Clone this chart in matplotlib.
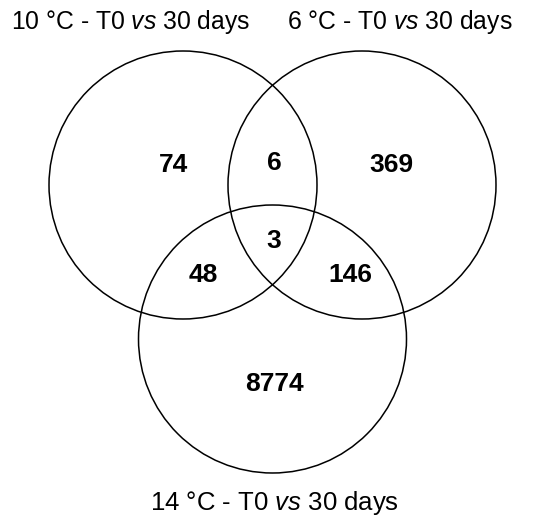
import matplotlib
matplotlib.use('Agg')
import matplotlib.pyplot as plt
from matplotlib.patches import Circle

plt.rcParams['font.family'] = ['Liberation Sans', 'DejaVu Sans']
plt.rcParams['mathtext.fontset'] = 'custom'
plt.rcParams['mathtext.it'] = 'Liberation Sans:italic'
plt.rcParams['mathtext.rm'] = 'Liberation Sans'

# set labels and region counts
set_labels = [r'10 °C - T0 $\it{vs}$ 30 days',
              r'6 °C - T0 $\it{vs}$ 30 days',
              r'14 °C - T0 $\it{vs}$ 30 days']
regions = ['A', 'B', 'C', 'AB', 'AC', 'BC', 'ABC']
counts = [74, 369, 8774, 6, 48, 146, 3]

fig = plt.figure(figsize=(5.49, 5.20), dpi=100)
ax = fig.add_axes([0, 0, 1, 1])
ax.set_xlim(0, 549)
ax.set_ylim(520, 0)
ax.set_aspect('equal')
ax.axis('off')

r = 134
centers = [(183, 185), (362, 185), (272.5, 339)]
for c in centers:
    ax.add_patch(Circle(c, r, fill=False, edgecolor='black', linewidth=1.1))

# baseline positions
label_pos = [(131, 29), (400, 29), (274.5, 510)]
label_size = [17.8, 17.8, 18.5]
for (x, y), t, fs in zip(label_pos, set_labels, label_size):
    ax.text(x, y, t, ha='center', va='baseline', fontsize=fs)

count_pos = {'A': (173, 172), 'B': (391, 172), 'C': (274, 391),
             'AB': (274, 170), 'AC': (203, 282), 'BC': (350, 282),
             'ABC': (274, 248)}
for reg, n in zip(regions, counts):
    x, y = count_pos[reg]
    ax.text(x, y, str(n), ha='center', va='baseline', fontsize=19,
            fontweight='bold')

plt.savefig('out.png', dpi=100)
